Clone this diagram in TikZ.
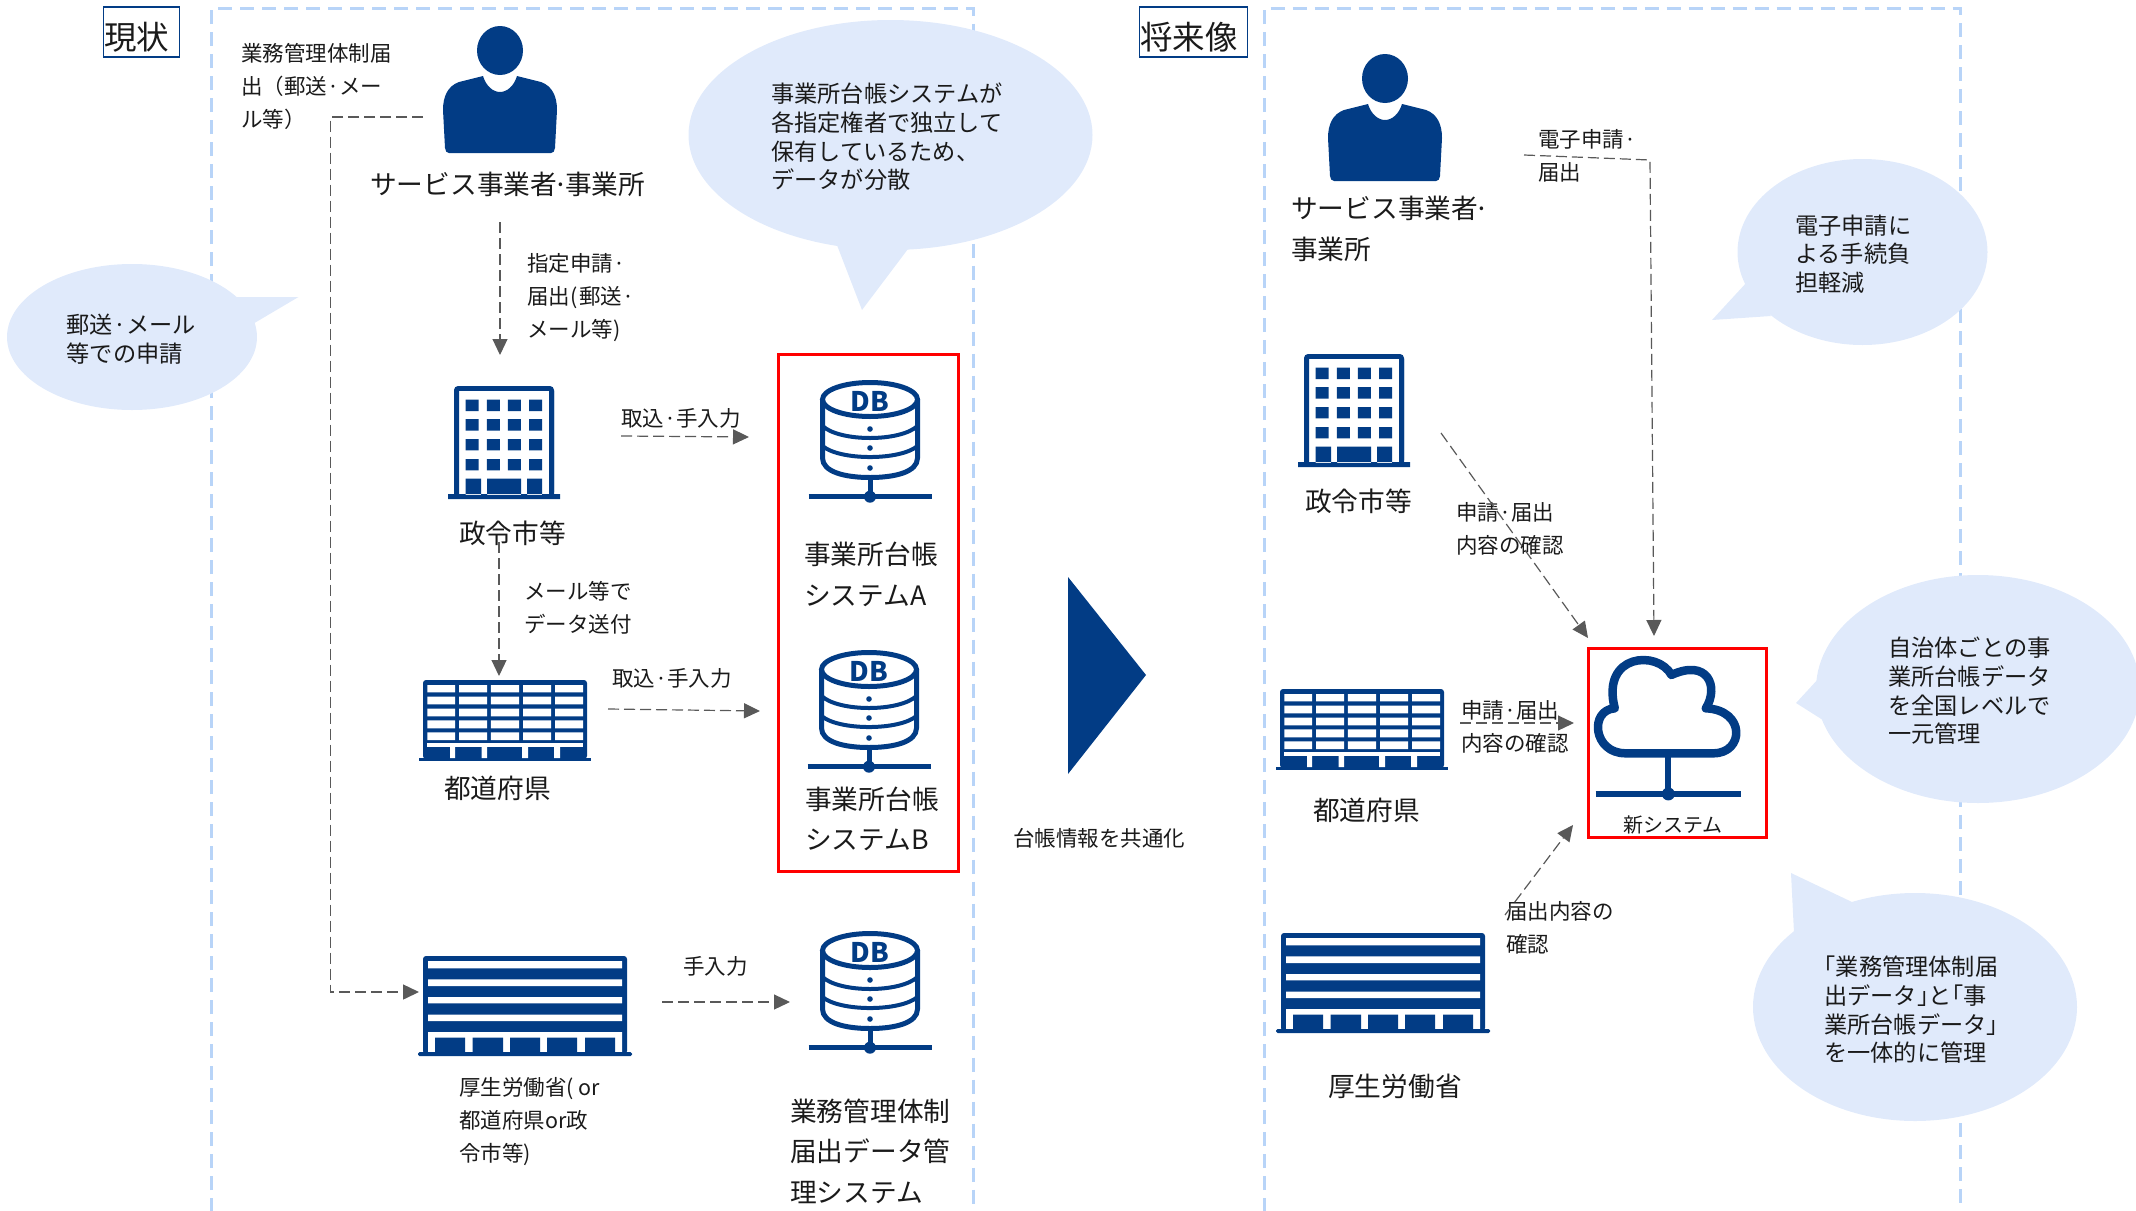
\documentclass[tikz,border=0pt]{standalone}
\usepackage{fontspec}
\setmainfont{Noto Sans CJK JP}
\usetikzlibrary{arrows.meta}
\definecolor{navy}{HTML}{023C85}
\definecolor{bubblefill}{HTML}{E0EAFB}
\definecolor{framedash}{HTML}{B8D4F8}
\definecolor{flowgray}{HTML}{595959}
\definecolor{ink}{HTML}{1A1A1A}
\newcommand{\tightdot}{\kern-3.5pt·\kern-3.5pt}
\newcommand{\closeq}{」\kern-11.6pt}
\newcommand{\openq}{\kern-11.6pt「}
\tikzset{
  iconbox/.style={inner sep=0pt,minimum width=#1,minimum height=10pt},
  lab/.style={anchor=west,align=left,inner sep=0pt,text=ink,font=\fontsize{21.5}{33}\selectfont},
  big/.style={anchor=west,align=left,inner sep=0pt,text=ink,font=\fontsize{26.7}{40.6}\selectfont},
  bub/.style={anchor=west,align=left,inner sep=0pt,text=ink,font=\fontsize{23.2}{28.7}\selectfont},
  titlebox/.style={draw=navy,line width=1.6pt,inner sep=0pt},
  titletext/.style={anchor=west,inner sep=0pt,text=ink,font=\fontsize{32.5}{36}\selectfont},
  areaframe/.style={draw=framedash,line width=3pt,dash pattern=on 14pt off 8pt},
  redframe/.style={draw=red,line width=3pt},
  bubbleshape/.style={fill=bubblefill,draw=none},
  flow/.style={draw=flowgray,line width=1.2pt,dash pattern=on 11pt off 5pt,-{Triangle[length=16pt,width=15pt]},color=flowgray},
}
\newcommand{\iconperson}[3]{\begin{scope}[shift={(#2,#3)}]
  \fill[navy] (0,24.5) ellipse [x radius=23pt,y radius=24.5pt];
  \fill[navy] (-17,50) .. controls (-14,60) and (-7,66) .. (0,66) .. controls (7,66) and (14,60) .. (17,50)
    -- (41,56) .. controls (52,60) and (57,70) .. (57,84) -- (55,122) .. controls (55,125) and (53,127) .. (51,127)
    -- (-51,127) .. controls (-53,127) and (-55,125) .. (-55,122) -- (-57,84) .. controls (-57,70) and (-52,60) .. (-41,56) -- cycle;
  \node[iconbox=114pt] (#1) at (0,64) {};
\end{scope}}
\newcommand{\iconoffice}[3]{\begin{scope}[shift={(#2,#3)}]
  \fill[navy,rounded corners=4pt] (-50,0) rectangle (50,110);
  \fill[white] (-45,5) rectangle (45,110);
  \fill[navy] (-38.3,13.7) rectangle (-25.3,25) (-17.2,13.7) rectangle (-4.2,25) (3.8,13.7) rectangle (16.8,25) (25,13.7) rectangle (38,25)
   (-38.3,33) rectangle (-25.3,44.7) (-17.2,33) rectangle (-4.2,44.7) (3.8,33) rectangle (16.8,44.7) (25,33) rectangle (38,44.7)
   (-38.3,53) rectangle (-25.3,64.3) (-17.2,53) rectangle (-4.2,64.3) (3.8,53) rectangle (16.8,64.3) (25,53) rectangle (38,64.3)
   (-38.3,73) rectangle (-25.3,84.3) (-17.2,73) rectangle (-4.2,84.3) (3.8,73) rectangle (16.8,84.3) (25,73) rectangle (38,84.3)
   (-38.3,92.7) rectangle (-23,109) (-17,92.7) rectangle (17,109) (23,92.7) rectangle (38,109)
   (-56,108) -- (56,108) -- (56,113) -- (-56,113) -- cycle;
  \fill[navy] (-50,5) rectangle (-45,110) (45,5) rectangle (50,110);
  \node[iconbox=112pt] (#1) at (0,56) {};
\end{scope}}
\newcommand{\iconpref}[3]{\begin{scope}[shift={(#2,#3)}]
  \fill[navy,rounded corners=3pt] (-82,0) rectangle (82,79);
  \fill[navy] (-86,78) rectangle (86,81);
  \fill[white] \foreach \ya/\yb in {5/12.3,16.7/24.3,28.7/36.3,40.3/48.3,52.3/60}{
     \foreach \xa/\xb in {-77.7/-49.8,-46/-18,-14.2/14,18/46,50/78}{ (\xa,\ya) rectangle (\xb,\yb) } };
  \fill[white] (-78,63.3) rectangle (78,66.7);
  \fill[white] (-55,66) rectangle (-49.8,78) (-23.3,66) rectangle (-18,78) (17.2,66) rectangle (23,78) (49,66) rectangle (55,78);
  \node[iconbox=172pt] (#1) at (0,40) {};
\end{scope}}
\newcommand{\iconministry}[3]{\begin{scope}[shift={(#2,#3)}]
  \fill[navy,rounded corners=3pt] (-102,0) rectangle (102,98);
  \fill[white] (-97,5) rectangle (97,12.3) (-97,23.3) rectangle (97,30) (-97,41) rectangle (97,47.3) (-97,58.7) rectangle (97,65) (-97,76) rectangle (97,98);
  \fill[navy] (-90,81.7) rectangle (-60,98) (-52.5,81.7) rectangle (-22,98) (-15,81.7) rectangle (15,98) (22,81.7) rectangle (52,98) (60,81.7) rectangle (90,98);
  \fill[navy,rounded corners=1.5pt] (-107,96) rectangle (107,100);
  \node[iconbox=214pt] (#1) at (0,50) {};
\end{scope}}
\newcommand{\icondb}[3]{\begin{scope}[shift={(#2,#3)}]
  \draw[navy,line width=5pt] (0,19.5) ellipse [x radius=47.5pt,y radius=17pt];
  \draw[navy,line width=5pt] (-47.5,19.5) -- (-47.5,78) .. controls (-47.5,92) and (-25,97.5) .. (0,97.5) .. controls (25,97.5) and (47.5,92) .. (47.5,78) -- (47.5,19.5);
  \draw[navy,line width=4pt] (-47.5,46) .. controls (-30,62) and (30,62) .. (47.5,46);
  \draw[navy,line width=4pt] (-47.5,66) .. controls (-30,80.7) and (30,80.7) .. (47.5,66);
  \fill[navy] (0,49) circle [radius=2.8pt] (0,68) circle [radius=2.8pt] (0,88) circle [radius=2.8pt] (0,116.7) circle [radius=6pt];
  \draw[navy,line width=5pt] (0,98) -- (0,116.7) (-61.5,116.7) -- (61.5,116.7);
  \node[inner sep=0pt,text=navy,font=\fontsize{27}{27}\selectfont\bfseries] (#1) at (0,21) {DB};
\end{scope}}
\begin{document}
\begin{tikzpicture}[x=1pt,y=-1pt]
\useasboundingbox (0,0) rectangle (2136,1210);
\clip (0,0) rectangle (2136,1210);
% area frames
\draw[areaframe] (211.5,1212) -- (211.5,8.5) -- (973,8.5) -- (973,1212);
\draw[areaframe] (1264,1212) -- (1264,8.5) -- (1960,8.5) -- (1960,1212);
% titles
\node[titlebox,minimum width=76pt,minimum height=50pt] (ttl1box) at (141.5,32) {};
\node[titletext] (ttl1) at (104,37.5) {現状};
\node[titlebox,minimum width=108pt,minimum height=50pt] (ttl2box) at (1193.5,32) {};
\node[titletext] (ttl2) at (1140,37.5) {将来像};
% bubbles
\fill[bubbleshape] (132,337) ellipse [x radius=125pt,y radius=73pt];
\fill[bubbleshape] (235,297) -- (298.5,297) -- (254.5,323) -- cycle;
\fill[bubbleshape] (890.5,135) ellipse [x radius=202pt,y radius=115pt];
\fill[bubbleshape] (835,240) -- (862,310) -- (911,245) -- cycle;
\fill[bubbleshape] (1862.5,252) ellipse [x radius=125pt,y radius=93pt];
\fill[bubbleshape] (1747,282) -- (1712,320) -- (1771,316) -- cycle;
\fill[bubbleshape] (1978,689) ellipse [x radius=162pt,y radius=114pt];
\fill[bubbleshape] (1819,678) -- (1796,703) -- (1826,722) -- cycle;
\fill[bubbleshape] (1915,1007) ellipse [x radius=162pt,y radius=114pt];
\fill[bubbleshape] (1852,902) -- (1791,873) -- (1795,953) -- cycle;
\node[bub] (b1) at (66.5,339) {郵送·メール\\等での申請};
\node[bub] (b2) at (771,137) {事業所台帳システムが\\各指定権者で独立して\\保有しているため、\\データが分散};
\node[bub] (b3) at (1795,254) {電子申請に\\よる手続負\\担軽減};
\node[bub] (b4) at (1888,691) {自治体ごとの事\\業所台帳データ\\を全国レベルで\\一元管理};
\node[bub] (b5) at (1824,1010) {\openq 業務管理体制届\\出データ\closeq と\openq 事\\業所台帳データ\closeq\\を一体的に管理};
% triangle
\fill[navy] (1068,577) -- (1146,675) -- (1068,774) -- cycle;
% red boxes
\node[redframe,inner sep=0pt,minimum width=180pt,minimum height=517pt] (red1) at (868,612.5) {};
\node[redframe,inner sep=0pt,minimum width=178pt,minimum height=189pt] (red2) at (1677,743) {};
% icons left
\iconperson{personL}{500}{26}
\iconoffice{officeL}{504}{386}
\iconpref{prefL}{505}{680}
\iconministry{minL}{525}{956}
\icondb{dbA}{870}{380}
\icondb{dbB}{869}{650}
\icondb{dbC}{870}{931}
% icons right
\iconperson{personR}{1385}{54}
\iconoffice{officeR}{1354}{354}
\iconpref{prefR}{1362}{689}
\iconministry{minR}{1383}{933}
% cloud
\begin{scope}[shift={(1260,330)},x=0.3827pt,y=-0.3333pt]
  \draw[navy,line width=8.5pt,line join=round] (955,1270) -- (1185,1270) .. controls (1265,1270) and (1270,1140) .. (1165,1135)
    .. controls (1200,1070) and (1170,985) .. (1075,1035) .. controls (1040,960) and (890,970) .. (927,1135)
    .. controls (860,1140) and (870,1270) .. (955,1270) -- cycle;
  \draw[navy,line width=6pt] (1067,1275) -- (1067,1392);
  \draw[navy,line width=6pt] (877,1392) -- (1257,1392);
  \fill[navy] (1067,1392) ellipse [x radius=6.5pt,y radius=6.5pt];
  \node[iconbox=10pt] (cloud) at (1067,1130) {};
\end{scope}
% labels left
\node[lab] (l1) at (241,86) {業務管理体制届\\出（郵送·メー\\ル等）};
\node[big] (l2) at (370,184) {サービス事業者\tightdot 事業所};
\node[lab] (l3) at (527,298) {指定申請·\\届出(\kern2pt郵送·\\メール等)};
\node[big] (l4) at (459,533) {政令市等};
\node[lab] (l5) at (524,608) {メール等で\\データ送付};
\node[big] (l6) at (444,788) {都道府県};
\node[lab] (l7) at (459,1122) {厚生労働省(\kern5pt{}or\\都道府県or政\\令市等)};
\node[lab] (l8) at (621,418) {取込·手入力};
\node[lab] (l9) at (612,678) {取込·手入力};
\node[lab] (l10) at (683,966) {手入力};
\node[big] (l11) at (804,574.5) {事業所台帳\\システムA};
\node[big] (l12) at (805,819) {事業所台帳\\システムB};
\node[big] (l13) at (790,1151) {業務管理体制\\届出データ管\\理システム};
\node[lab] (l14) at (1013,838) {台帳情報を共通化};
% labels right
\node[big] (r1) at (1291,229) {サービス事業者\tightdot\\事業所};
\node[big] (r2) at (1305,501) {政令市等};
\node[big] (r3) at (1313,810) {都道府県};
\node[big] (r4) at (1328,1086) {厚生労働省};
\node[lab] (r5) at (1538,156) {電子申請·\\届出};
\node[lab] (r6) at (1456,529) {申請·届出\\内容の確認};
\node[lab] (r7) at (1461,726.5) {申請·届出\\内容の確認};
\node[lab] (r8) at (1506,927.5) {届出内容の\\確認};
\node[lab,font=\fontsize{20}{24}\selectfont] (r9) at (1623,825) {新システム};
% connector ends
\coordinate (a1s) at (500,222); \coordinate (a1e) at (500,355);
\coordinate (a2s) at (423,117); \coordinate (a2m) at (330.6,117); \coordinate (a2n) at (330.6,992); \coordinate (a2e) at (419,992);
\coordinate (a3s) at (621,436); \coordinate (a3e) at (749,437);
\coordinate (a4s) at (499,542); \coordinate (a4e) at (499,676);
\coordinate (a5s) at (608,709); \coordinate (a5e) at (760,711);
\coordinate (a6s) at (662,1002); \coordinate (a6e) at (790,1002);
\coordinate (c1s) at (1524,155); \coordinate (c1m) at (1650,160); \coordinate (c1e) at (1654,636);
\coordinate (c2s) at (1441,433); \coordinate (c2e) at (1588,638);
\coordinate (c3s) at (1460,723); \coordinate (c3e) at (1574,723);
\coordinate (c4s) at (1505,915); \coordinate (c4e) at (1573,825);
% connectors
\draw[flow] (a1s) -- (a1e);
\draw[flow,line width=1.5pt] (a2s) -- (a2m) -- (a2n) -- (a2e);
\draw[flow] (a3s) -- (a3e);
\draw[flow] (a4s) -- (a4e);
\draw[flow] (a5s) -- (a5e);
\draw[flow] (a6s) -- (a6e);
\draw[flow] (c1s) -- (c1m) -- (c1e);
\draw[flow] (c2s) -- (c2e);
\draw[flow] (c3s) -- (c3e);
\draw[flow] (c4s) -- (c4e);
\end{tikzpicture}
\end{document}
